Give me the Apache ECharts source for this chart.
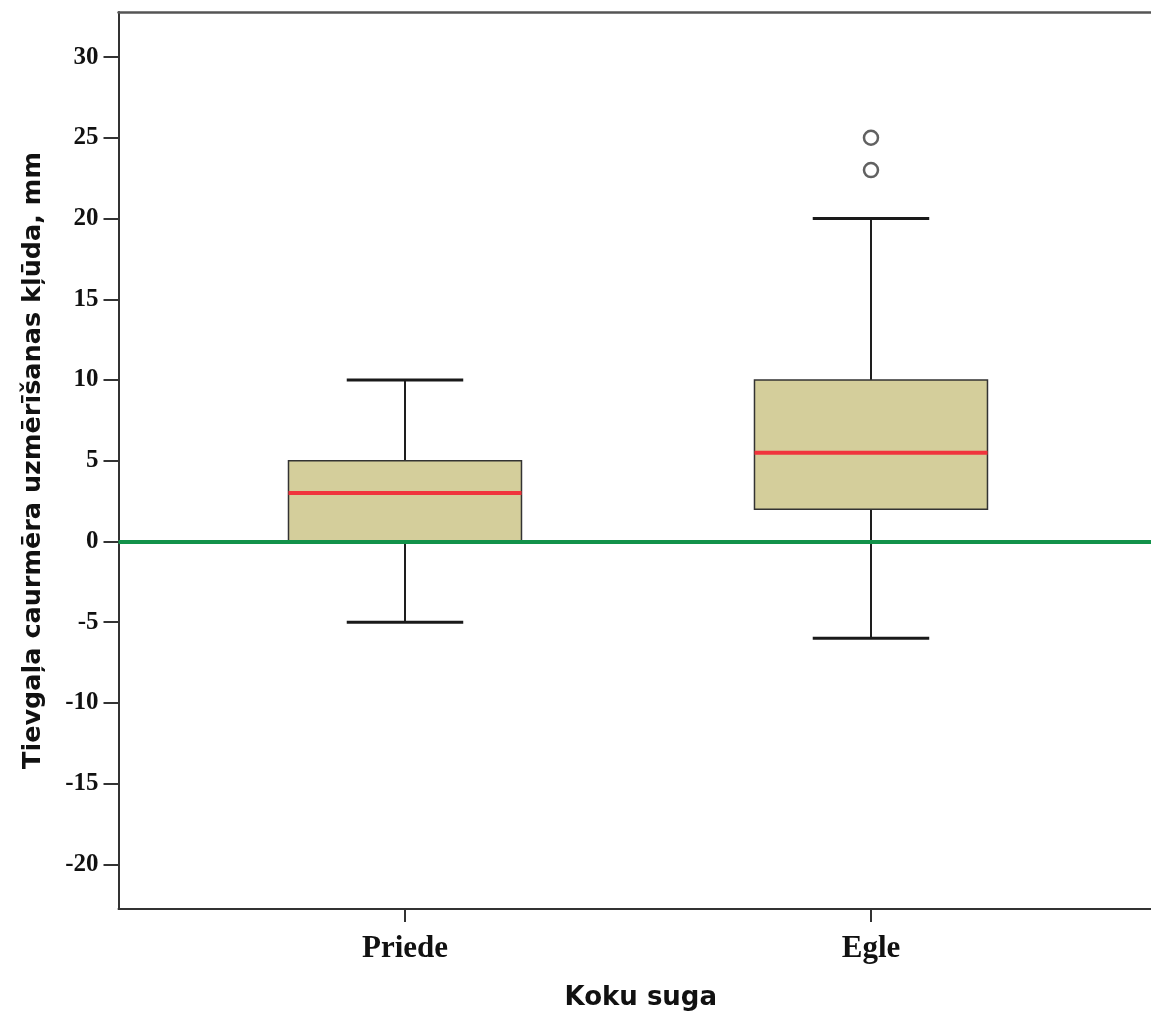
<!DOCTYPE html>
<html><head><meta charset="utf-8">
<script src="https://cdn.jsdelivr.net/npm/echarts@6/dist/echarts.min.js"></script>
<style>html,body{margin:0;padding:0;background:#fff}#c{width:1151px;height:1016px}</style>
</head><body><div id="c"></div>
<script>
// ---- data ----
const categories = ['Priede', 'Egle'];
const whiskerLow = [-5, -6];
const q1 = [0, 2];
const median = [3, 5.5];
const q3 = [5, 10];
const whiskerHigh = [10, 20];
const outlierCategory = ['Egle', 'Egle'];
const outlierValues = [25, 23];
const yTicks = [-20, -15, -10, -5, 0, 5, 10, 15, 20, 25, 30];
const referenceValue = 0;
const xTitle = 'Koku suga';
const yTitle = 'Tievgaļa caurmēra uzmērīšanas kļūda, mm';

// category positions on a numeric base axis (1, 2, ...)
const catPos = categories.map((c, i) => i + 1);
const boxData = categories.map((c, i) => [catPos[i], whiskerLow[i], q1[i], median[i], q3[i], whiskerHigh[i]]);
const outlierData = outlierValues.map((v, i) => [catPos[categories.indexOf(outlierCategory[i])], v]);

function renderItem(params, api) {
  const x = api.value(0);
  const lo = api.coord([x, api.value(1)]);
  const b1 = api.coord([x, api.value(2)]);
  const md = api.coord([x, api.value(3)]);
  const b3 = api.coord([x, api.value(4)]);
  const hi = api.coord([x, api.value(5)]);
  const unit = api.size([1, 0])[0];
  const half = unit * 0.25;
  const capHalf = unit * 0.125;
  const cx = lo[0];
  const ws = { stroke: '#1e1e1e', lineWidth: 2 };
  const cs = { stroke: '#1a1a1a', lineWidth: 3 };
  return {
    type: 'group',
    children: [
      { type: 'line', shape: { x1: cx, y1: hi[1], x2: cx, y2: b3[1] }, style: ws },
      { type: 'line', shape: { x1: cx, y1: b1[1], x2: cx, y2: lo[1] }, style: ws },
      { type: 'line', shape: { x1: cx - capHalf, y1: hi[1], x2: cx + capHalf, y2: hi[1] }, style: cs },
      { type: 'line', shape: { x1: cx - capHalf, y1: lo[1], x2: cx + capHalf, y2: lo[1] }, style: cs },
      { type: 'rect', shape: { x: cx - half, y: b3[1], width: 2 * half, height: b1[1] - b3[1] },
        style: { fill: '#d4ce9b', stroke: '#333', lineWidth: 1.5 } },
      { type: 'line', shape: { x1: cx - half, y1: md[1], x2: cx + half, y2: md[1] },
        style: { stroke: '#f0343c', lineWidth: 4 } }
    ]
  };
}

const axisLineStyle = { color: '#333', width: 2 };
const chart = echarts.init(document.getElementById('c'));
chart.setOption({
  animation: false,
  backgroundColor: '#fff',
  grid: { left: 118.5, top: 12, right: 0, bottom: 106.7, show: false },
  xAxis: [{
    type: 'value', position: 'bottom', min: 0.3852, max: 2.6009,
    name: xTitle, nameLocation: 'middle', nameGap: 76,
    nameTextStyle: { fontFamily: 'DejaVu Sans', fontWeight: 'bold', fontSize: 26, color: '#111', padding: [0, 0, 0, 12] },
    axisLine: { show: true, onZero: false, lineStyle: axisLineStyle },
    axisTick: { show: true, customValues: catPos, length: 13, lineStyle: axisLineStyle },
    axisLabel: { customValues: catPos, formatter: v => categories[Math.round(v) - 1] || '', margin: 24,
      fontFamily: 'Liberation Serif', fontWeight: 'bold', fontSize: 31, color: '#111' },
    splitLine: { show: false }
  }, {
    type: 'value', position: 'top', min: 0.3852, max: 2.6009,
    axisLine: { show: true, onZero: false, lineStyle: { color: '#555', width: 2.5 } },
    axisTick: { show: false }, axisLabel: { show: false }, splitLine: { show: false }
  }],
  yAxis: {
    type: 'value', min: -22.76, max: 32.79,
    name: yTitle, nameLocation: 'middle', nameGap: 72, nameRotate: 90,
    nameTextStyle: { fontFamily: 'DejaVu Sans', fontWeight: 'bold', fontSize: 25.5, color: '#111' },
    axisLine: { show: true, onZero: false, lineStyle: axisLineStyle },
    axisTick: { show: true, customValues: yTicks, length: 15, lineStyle: axisLineStyle },
    axisLabel: { customValues: yTicks, margin: 20,
      fontFamily: 'Liberation Serif', fontWeight: 'bold', fontSize: 25, color: '#111' },
    splitLine: { show: false }
  },
  series: [
    {
      type: 'custom', renderItem: renderItem, data: boxData,
      encode: { x: 0, y: [1, 2, 3, 4, 5] }, z: 2,
      markLine: {
        silent: true, symbol: ['none', 'none'], label: { show: false },
        lineStyle: { color: '#12924a', width: 4, type: 'solid' },
        data: [{ yAxis: referenceValue }], z: 5
      }
    },
    {
      type: 'scatter', data: outlierData, symbol: 'circle', symbolSize: 14, z: 3,
      itemStyle: { color: '#fff', borderColor: '#3a3a3a', borderWidth: 2.5 }
    }
  ]
});
</script>
</body></html>
